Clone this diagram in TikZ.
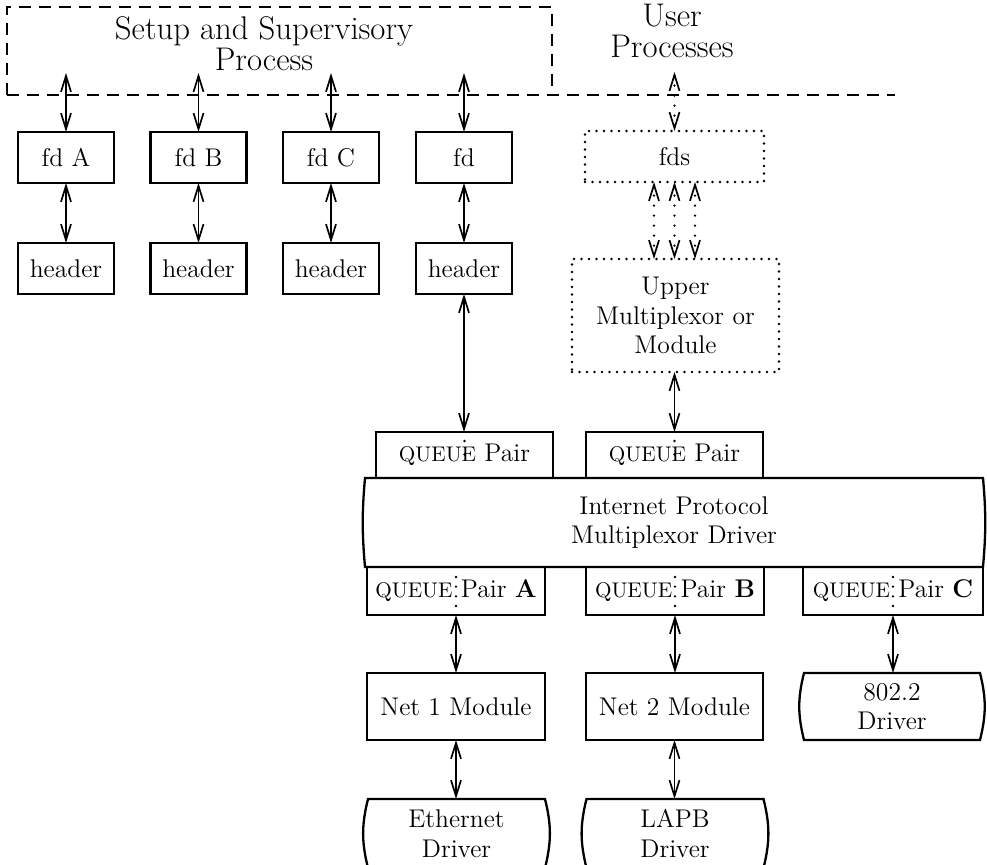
\documentclass[tikz,border=0pt]{standalone}
\usetikzlibrary{arrows.meta,calc}
\newcommand\dgNorm{\fontsize{12.8pt}{14.8pt}\selectfont}
\newcommand\dgBig{\fontsize{16.4pt}{15.5pt}\selectfont}
\newcommand\dgQ{\fontsize{10.6pt}{12pt}\selectfont}
\begin{document}
\begin{tikzpicture}[x=0.5pt,y=-0.5pt,
  plain/.style={inner sep=0pt,outer sep=0pt,font=\dgNorm,align=center},
  box/.style={plain,draw,line width=1.15pt},
  dotbox/.style={box,line cap=round,line width=1.4pt,dash pattern=on 0pt off 3.75pt},
  edge/.style={line width=1.15pt},
  dashln/.style={line width=1.15pt,dash pattern=on 6pt off 4pt},
  qdot/.style={line width=1.3pt,line cap=round},
  arr/.style={line width=0.85pt,{Straight Barb[length=8pt,width=5pt]}-{Straight Barb[length=8pt,width=5pt]}},
  darr/.style={line width=1.3pt,line cap=round,dash pattern=on 0pt off 5pt,
    {Straight Barb[length=8pt,width=5pt,line width=0.85pt]}-{Straight Barb[length=8pt,width=5pt,line width=0.85pt]}}
]
\useasboundingbox (0,0) rectangle (987,865);

% top labels and dashed boundary
\node[plain,font=\dgBig] (setup) at (264,43.5) {Setup and Supervisory\\Process};
\node[plain,font=\dgBig] (user) at (672,31) {User\\Processes};
\draw[dashln] (7,95) -- (7,7) -- (552,7) -- (552,95);
\draw[dashln] (7,95) -- (895,95);

% fd row
\node[box,minimum width=48pt,minimum height=25.5pt] (fdA) at (66,157.5) {fd A};
\node[box,minimum width=48pt,minimum height=25.5pt] (fdB) at (198.5,157.5) {fd B};
\node[box,minimum width=48pt,minimum height=25.5pt] (fdC) at (331,157.5) {fd C};
\node[box,minimum width=48pt,minimum height=25.5pt] (fdD) at (464,157.5) {fd};
% header row
\node[box,minimum width=48pt,minimum height=25.5pt] (hdA) at (66,268.5) {header};
\node[box,minimum width=48pt,minimum height=25.5pt] (hdB) at (198.5,268.5) {header};
\node[box,minimum width=48pt,minimum height=25.5pt] (hdC) at (331,268.5) {header};
\node[box,minimum width=48pt,minimum height=25.5pt] (hdD) at (464,268.5) {header};

% user side
\node[dotbox,minimum width=89.5pt,minimum height=25.5pt] (fds) at (674.5,156.5) {fds};
\node[dotbox,minimum width=103.5pt,minimum height=56.5pt] (upper) at (675.5,315.5) {Upper\\Multiplexor or\\Module};

% queue pairs above the multiplexor
\node[box,minimum width=88.5pt,minimum height=23pt] (qp1) at (464.5,455) {{\dgQ QUEUE} Pair};
\node[box,minimum width=88.5pt,minimum height=23pt] (qp2) at (674.5,455) {{\dgQ QUEUE} Pair};

% multiplexor driver
\node[plain,minimum width=309pt,minimum height=44.5pt] (ip) at (674,522.5) {Internet Protocol\\Multiplexor Driver};
\draw[edge] (ip.north west) -- (ip.north east) to[out=-85,in=85] (ip.south east)
  -- (ip.south west) to[out=95,in=-95] (ip.north west) -- cycle;

% queue pairs below
\node[box,minimum width=89pt,minimum height=24pt] (qa) at (456,591) {{\dgQ QUEUE} Pair \textbf{A}};
\node[box,minimum width=89pt,minimum height=24pt] (qb) at (675,591) {{\dgQ QUEUE} Pair \textbf{B}};
\node[box,minimum width=90pt,minimum height=24pt] (qc) at (893,591) {{\dgQ QUEUE} Pair \textbf{C}};

% modules
\node[box,minimum width=89pt,minimum height=33.5pt] (net1) at (456,706.5) {Net 1 Module};
\node[box,minimum width=88.5pt,minimum height=33.5pt] (net2) at (674.5,706.5) {Net 2 Module};

% drivers
\node[plain,minimum width=88pt,minimum height=33.5pt] (d802) at (892,706.5) {802.2\\Driver};
\node[plain,minimum width=88.5pt,minimum height=34.5pt] (eth) at (456.5,833.5) {Ethernet\\Driver};
\node[plain,minimum width=88.5pt,minimum height=34.5pt] (lapb) at (675,833.5) {LAPB\\Driver};
\foreach \n in {d802,eth,lapb}{
  \draw[edge] (\n.north west) -- (\n.north east) to[out=-76,in=76] (\n.south east)
    -- (\n.south west) to[out=104,in=-104] (\n.north west) -- cycle;
}

% dotted centre lines of the queue pairs
\draw[qdot,dash pattern=on 0pt off 6.75pt] ($(qp1.north)+(0,9)$) -- ($(qp1.south)+(0,-10)$);
\draw[qdot,dash pattern=on 0pt off 6.75pt] ($(qp2.north)+(0,9)$) -- ($(qp2.south)+(0,-10)$);
\draw[qdot,dash pattern=on 0pt off 4.83pt] ($(qa.north)+(0,10)$) -- ($(qa.south)+(0,-9)$);
\draw[qdot,dash pattern=on 0pt off 4.83pt] ($(qb.north)+(0,10)$) -- ($(qb.south)+(0,-9)$);
\draw[qdot,dash pattern=on 0pt off 4.83pt] ($(qc.north)+(0,10)$) -- ($(qc.south)+(0,-9)$);

% arrows from the supervisory process
\coordinate (sA) at (66,73);
\coordinate (sB) at (198.5,73);
\coordinate (sC) at (331,73);
\coordinate (sD) at (464,73);
\draw[arr] (sA) -- (fdA.north);
\draw[arr] (sB) -- (fdB.north);
\draw[arr] (sC) -- (fdC.north);
\draw[arr] (sD) -- (fdD.north);
\draw[arr] (fdA.south) -- (hdA.north);
\draw[arr] (fdB.south) -- (hdB.north);
\draw[arr] (fdC.south) -- (hdC.north);
\draw[arr] (fdD.south) -- (hdD.north);
\draw[arr] (hdD.south) -- (hdD.south |- qp1.north);

% user process arrows
\coordinate (uP) at (674.5,72);
\draw[darr] (uP) -- (fds.north);
\coordinate (f1) at ($(fds.south)+(-20.5,0)$);
\coordinate (f2) at (fds.south);
\coordinate (f3) at ($(fds.south)+(20.5,0)$);
\draw[darr] (f1) -- (f1 |- upper.north);
\draw[darr] (f2) -- (f2 |- upper.north);
\draw[darr] (f3) -- (f3 |- upper.north);
\draw[arr] (qp2.north |- upper.south) -- (qp2.north);

% lower arrows
\draw[arr] (qa.south) -- (net1.north);
\draw[arr] (qb.south) -- (qb.south |- net2.north);
\draw[arr] (qc.south) -- (qc.south |- d802.north);
\draw[arr] (net1.south) -- (net1.south |- eth.north);
\draw[arr] (net2.south) -- (net2.south |- lapb.north);
\end{tikzpicture}
\end{document}
